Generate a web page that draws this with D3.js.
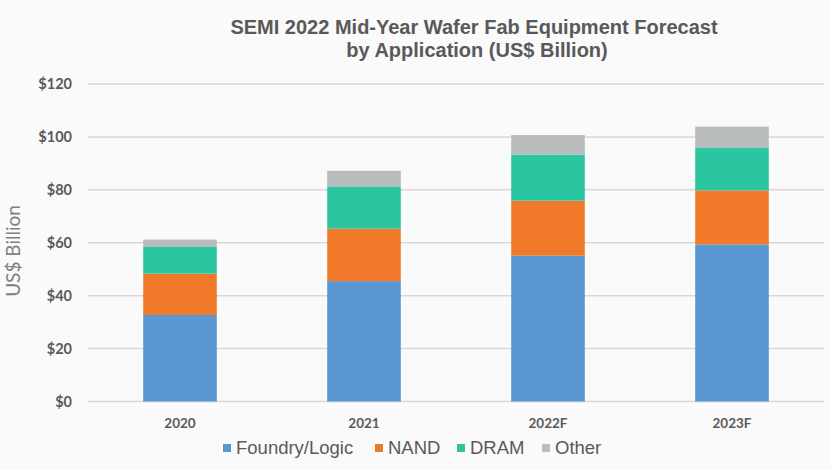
<!DOCTYPE html>
<html>
<head>
<meta charset="utf-8">
<script src="https://cdn.jsdelivr.net/npm/d3@7"></script>
<style>
  body { margin: 0; background: #fafafa; }
</style>
</head>
<body>
<script>
var categories = ["2020", "2021", "2022F", "2023F"];
var seriesNames = ["Foundry/Logic", "NAND", "DRAM", "Other"];
var foundryLogic = [32.7, 45.5, 55.1, 59.4];
var nand = [15.6, 19.8, 20.8, 20.4];
var dram = [10.1, 16.0, 17.4, 16.0];
var other = [2.8, 5.9, 7.4, 8.1];
var yTicks = [0, 20, 40, 60, 80, 100, 120];
var colors = ["#5b97d3", "#f07a2a", "#2cc5a2", "#b8bcbc"];

var rows = categories.map(function(c, i) {
  return { cat: c, "Foundry/Logic": foundryLogic[i], "NAND": nand[i], "DRAM": dram[i], "Other": other[i] };
});

var svg = d3.select("body").append("svg")
  .attr("width", 831)
  .attr("height", 470);

svg.append("rect")
  .attr("width", 831).attr("height", 470)
  .attr("fill", "#fafafa");

var x = d3.scaleBand()
  .domain(categories)
  .range([88, 824])
  .paddingInner(0.6)
  .paddingOuter(0.3);

var y = d3.scaleLinear()
  .domain([0, 120])
  .range([401.5, 84]);

var color = d3.scaleOrdinal().domain(seriesNames).range(colors);

// gridlines
svg.append("g")
  .selectAll("line")
  .data(yTicks)
  .enter()
  .append("line")
  .attr("x1", 88).attr("x2", 824)
  .attr("y1", function(d) { return y(d); })
  .attr("y2", function(d) { return y(d); })
  .attr("stroke", "#dbd5d8")
  .attr("stroke-width", 1.5);

// y axis labels
var yAxis = svg.append("g")
  .attr("transform", "translate(88,0)")
  .call(d3.axisLeft(y).tickValues(yTicks).tickSize(0).tickPadding(16)
    .tickFormat(function(d) { return "$" + d; }));
yAxis.select(".domain").remove();
yAxis.selectAll("text")
  .attr("font-family", "Lato, sans-serif")
  .attr("font-weight", "bold")
  .attr("font-size", 14.5)
  .attr("fill", "#595959");

// stacked bars
var stack = d3.stack().keys(seriesNames)(rows);

svg.append("g")
  .selectAll("g")
  .data(stack)
  .enter()
  .append("g")
  .attr("fill", function(d) { return color(d.key); })
  .selectAll("rect")
  .data(function(d) { return d; })
  .enter()
  .append("rect")
  .attr("x", function(d) { return x(d.data.cat); })
  .attr("width", x.bandwidth())
  .attr("y", function(d) { return y(d[1]); })
  .attr("height", function(d) { return y(d[0]) - y(d[1]); });

// x axis labels
var xAxis = svg.append("g")
  .attr("transform", "translate(0,401.5)")
  .call(d3.axisBottom(x).tickSize(0).tickPadding(17));
xAxis.select(".domain").remove();
xAxis.selectAll("text")
  .attr("font-family", "Lato, sans-serif")
  .attr("font-weight", "bold")
  .attr("font-size", 13.5)
  .attr("fill", "#595959");

// y axis title
svg.append("text")
  .attr("transform", "translate(20,251) rotate(-90)")
  .attr("text-anchor", "middle")
  .attr("font-family", "Lato, sans-serif")
  .attr("font-size", 19)
  .attr("fill", "#808080")
  .text("US$ Billion");

// title
var title = svg.append("text")
  .attr("text-anchor", "middle")
  .attr("font-family", "Liberation Sans, Arial, sans-serif")
  .attr("font-weight", "bold")
  .attr("font-size", 20)
  .attr("fill", "#595959");
title.append("tspan").attr("x", 474).attr("y", 34)
  .text("SEMI 2022 Mid-Year Wafer Fab Equipment Forecast");
title.append("tspan").attr("x", 477).attr("y", 57)
  .text("by Application (US$ Billion)");

// legend
var legendX = [223, 375, 457, 542];
var legend = svg.append("g")
  .selectAll("g")
  .data(seriesNames)
  .enter()
  .append("g")
  .attr("transform", function(d, i) { return "translate(" + legendX[i] + ",448)"; });
legend.append("rect")
  .attr("x", 0).attr("y", -4)
  .attr("width", 8).attr("height", 8)
  .attr("fill", function(d) { return color(d); });
legend.append("text")
  .attr("x", 13)
  .attr("dy", "0.35em")
  .attr("font-family", "Liberation Sans, Arial, sans-serif")
  .attr("font-size", 18.5)
  .attr("fill", "#595959")
  .text(function(d) { return d; });
</script>
</body>
</html>
